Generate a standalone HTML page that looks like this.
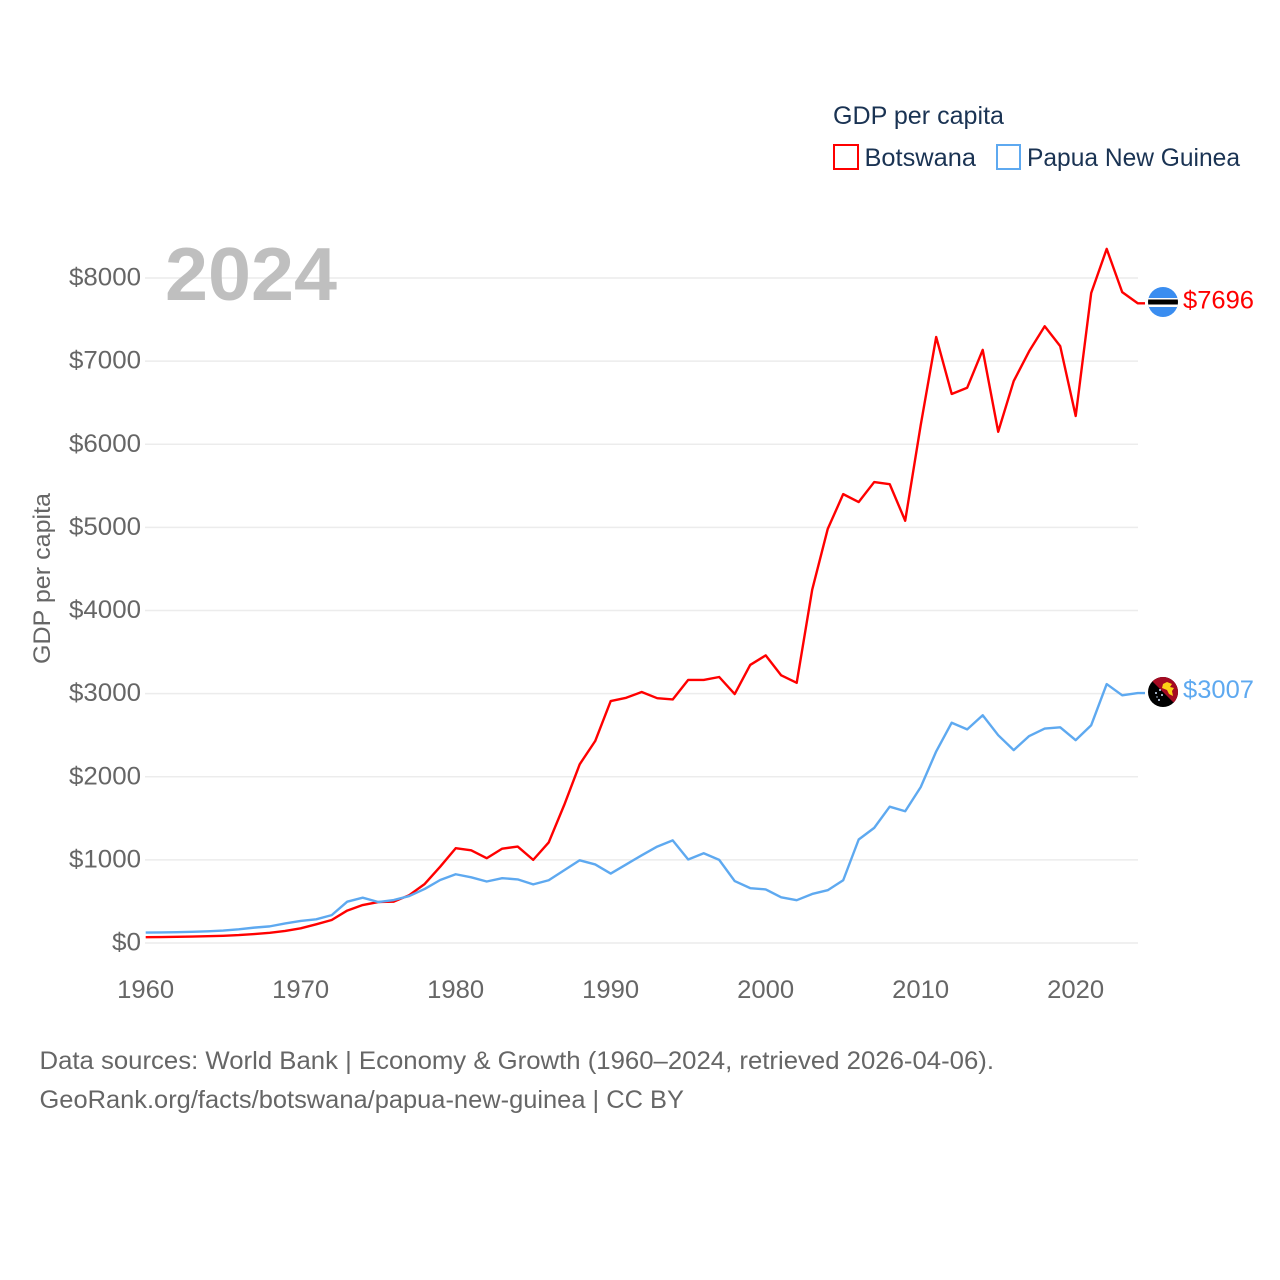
<!DOCTYPE html>
<html lang="en">
<head>
<meta charset="utf-8">
<title>GDP per capita: Botswana and Papua New Guinea</title>
<style>
html,body{margin:0;padding:0;background:#fff}
svg{display:block}
text{font-family:"Liberation Sans",sans-serif}
</style>
</head>
<body>
<svg id="chart" width="1280" height="1280" viewBox="0 0 1280 1280" xmlns="http://www.w3.org/2000/svg">
  <defs>
    <clipPath id="flag-clip-bw"><circle cx="0" cy="0" r="15"></circle></clipPath>
    <clipPath id="flag-clip-pg"><circle cx="0" cy="0" r="15"></circle></clipPath>
  </defs>
  <g id="grid"></g>
  <text x="165" y="300" font-size="75" font-weight="bold" fill="#bfbfbf" textLength="172" lengthAdjust="spacingAndGlyphs">2024</text>
  <g id="y-ticks"></g>
  <g id="x-ticks"></g>
  <text transform="translate(50,664) rotate(-90)" font-size="24" fill="#666666" textLength="171" lengthAdjust="spacingAndGlyphs">GDP per capita</text>
  <g id="series"></g>

  <g>
    <text x="833" y="124" font-size="25" fill="#1a3353" textLength="171" lengthAdjust="spacingAndGlyphs">GDP per capita</text>
    <rect x="834" y="145" width="24" height="24" fill="none" stroke="#ff0000" stroke-width="2"></rect>
    <text x="864.5" y="166" font-size="25" fill="#1a3353" textLength="111.5" lengthAdjust="spacingAndGlyphs">Botswana</text>
    <rect x="997" y="145" width="23" height="24" fill="none" stroke="#5ea9f0" stroke-width="2"></rect>
    <text x="1027" y="166" font-size="25" fill="#1a3353" textLength="213" lengthAdjust="spacingAndGlyphs">Papua New Guinea</text>
  </g>

  <g transform="translate(1163,302)">
    <g clip-path="url(#flag-clip-bw)">
      <rect x="-15" y="-15" width="30" height="30" fill="#3a8df0"></rect>
      <rect x="-15" y="-4" width="30" height="9" fill="#ffffff"></rect>
      <rect x="-15" y="-2.5" width="30" height="5" fill="#000000"></rect>
    </g>
  </g>
  <g transform="translate(1163,692)">
    <g clip-path="url(#flag-clip-pg)">
      <rect x="-15" y="-15" width="30" height="30" fill="#000000"></rect>
      <polygon points="-15,-15 15,-15 15,15" fill="#a50a22"></polygon>
      <polygon points="0,-8 4,-10 9,-8 7,-5 11,-4 9,-1 10,4 6,2 4,-2 -1,-4" fill="#fcd116"></polygon>
      <circle cx="-7" cy="1" r="1" fill="#cfe3ff"></circle>
      <circle cx="-3" cy="-2" r="1" fill="#cfe3ff"></circle>
      <circle cx="-1" cy="3" r="1" fill="#cfe3ff"></circle>
      <circle cx="-4" cy="8" r="1" fill="#cfe3ff"></circle>
      <circle cx="-6" cy="5" r="0.7" fill="#cfe3ff"></circle>
    </g>
  </g>
  <g id="end-labels"></g>

  <g font-size="25" fill="#666666">
    <text x="39.5" y="1069" textLength="954.5" lengthAdjust="spacingAndGlyphs">Data sources: World Bank | Economy &amp; Growth (1960–2024, retrieved 2026-04-06).</text>
    <text x="39.5" y="1108" textLength="644.5" lengthAdjust="spacingAndGlyphs">GeoRank.org/facts/botswana/papua-new-guinea | CC BY</text>
  </g>
</svg>
<script>
const startYear = 1960;
const botswanaValues = [70,72,75,78,82,87,95,108,122,145,177,225,277,390,457,493,497,575,710,918,1140,1115,1020,1135,1160,1000,1210,1660,2150,2430,2910,2950,3020,2945,2930,3165,3165,3200,2995,3345,3460,3220,3130,4250,4980,5400,5305,5545,5520,5080,6230,7290,6605,6680,7135,6150,6760,7120,7420,7180,6340,7820,8350,7830,7696];
const papuaValues = [125,127,130,134,140,150,165,185,200,235,265,285,335,497,545,493,517,565,650,758,827,790,740,780,765,705,755,875,995,945,835,945,1055,1160,1235,1005,1080,1000,745,660,645,550,515,590,635,755,1245,1385,1640,1585,1875,2305,2650,2570,2740,2500,2320,2490,2580,2595,2440,2620,3115,2980,3007];
const yTickValues = [0,1000,2000,3000,4000,5000,6000,7000,8000];
const yTickLabels = ["$0","$1000","$2000","$3000","$4000","$5000","$6000","$7000","$8000"];
const xTickValues = [1960,1970,1980,1990,2000,2010,2020];
const xTickLabels = ["1960","1970","1980","1990","2000","2010","2020"];
const botswanaLabel = "$7696";
const papuaLabel = "$3007";

const NS = "http://www.w3.org/2000/svg";
function xScale(year) { return 145.7 + (year - 1960) * 15.5; }
function yScale(value) { return 943 - value * 0.083125; }
function make(tag, parent) {
  const el = document.createElementNS(NS, tag);
  parent.appendChild(el);
  return el;
}
function set(el, attrs) {
  Object.keys(attrs).forEach(function (k) { el.setAttribute(k, attrs[k]); });
}

const grid = document.getElementById("grid");
const yTicks = document.getElementById("y-ticks");
const xTicks = document.getElementById("x-ticks");
const series = document.getElementById("series");
const endLabels = document.getElementById("end-labels");

yTickValues.forEach(function (v, i) {
  const line = make("line", grid);
  
  
  set(line, { x1: 145, x2: 1138, y1: yScale(v), y2: yScale(v), stroke: "#ececec", "stroke-width": 1.6 });
  const label = make("text", yTicks);
  
  
  const w = yTickLabels[i].length === 2 ? 29 : 72;
  set(label, { x: 141 - w, y: yScale(v) + 7.5, "font-size": 25, fill: "#666666", textLength: w, lengthAdjust: "spacingAndGlyphs" });
  label.textContent = yTickLabels[i];
});

xTickValues.forEach(function (v, i) {
  const label = make("text", xTicks);
  
  
  set(label, { x: xScale(v) - 28.5, y: 998, "font-size": 25, fill: "#666666", textLength: 57, lengthAdjust: "spacingAndGlyphs" });
  label.textContent = xTickLabels[i];
});

function drawSeries(values, color) {
  const pts = values.map(function (v, i) { return xScale(startYear + i) + "," + yScale(v); });
  const lastY = yScale(values[values.length - 1]);
  pts.push("1145," + lastY);
  const path = make("polyline", series);
  set(path, { points: pts.join(" "), fill: "none", stroke: color, "stroke-width": 2.4, "stroke-linejoin": "round" });
  return path;
}
const botswanaLine = drawSeries(botswanaValues, "#ff0000");


const papuaLine = drawSeries(papuaValues, "#5ea9f0");



const bwLabel = make("text", endLabels);


set(bwLabel, { x: 1183, y: yScale(botswanaValues[botswanaValues.length - 1]) + 5, "font-size": 25, fill: "#ff0000", textLength: 71, lengthAdjust: "spacingAndGlyphs" });
bwLabel.textContent = botswanaLabel;

const pgLabel = make("text", endLabels);


set(pgLabel, { x: 1183, y: yScale(papuaValues[papuaValues.length - 1]) + 5, "font-size": 25, fill: "#5ea9f0", textLength: 71, lengthAdjust: "spacingAndGlyphs" });
pgLabel.textContent = papuaLabel;
</script>
</body>
</html>
